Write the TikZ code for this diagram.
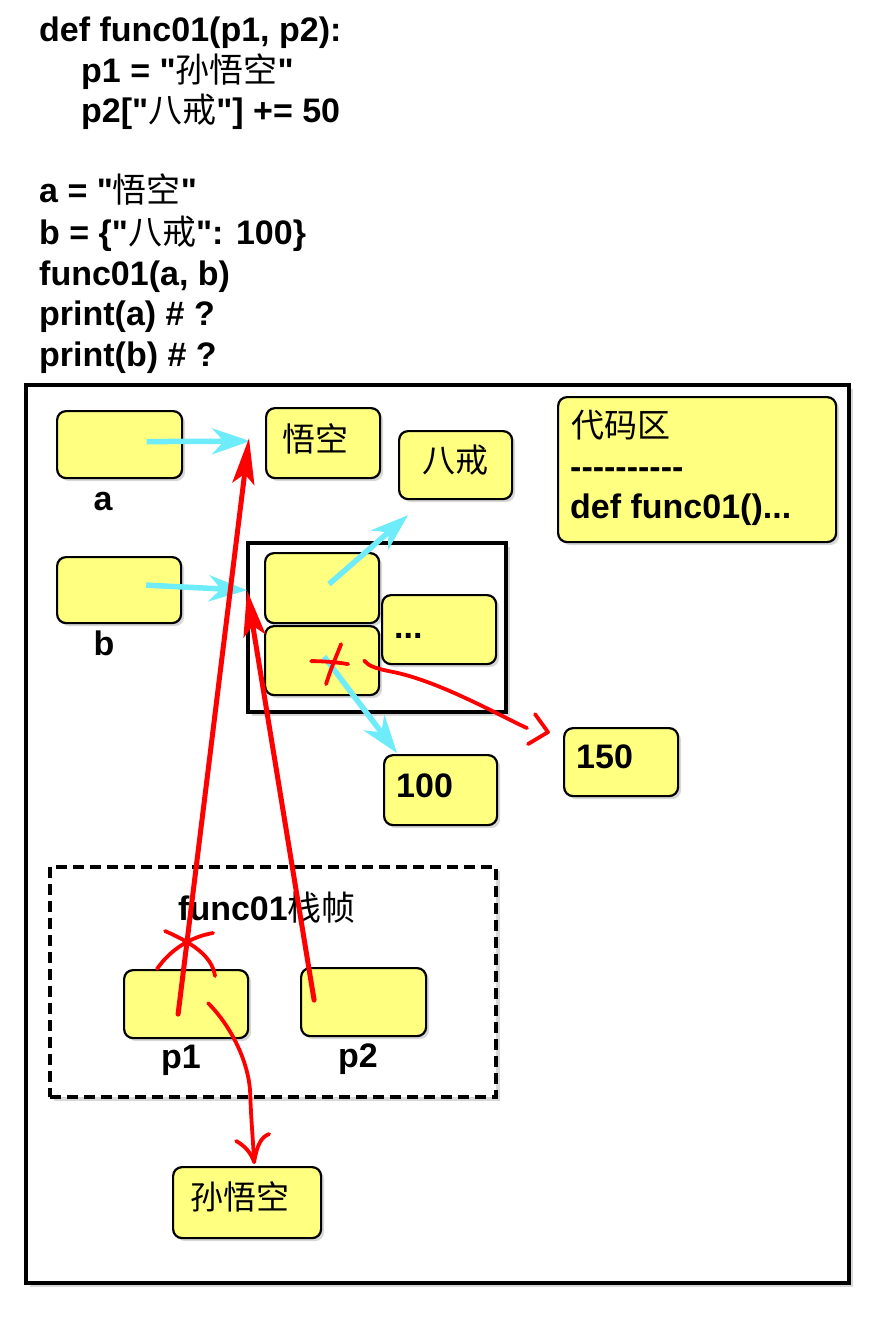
\documentclass[tikz,border=0pt]{standalone}
\usepackage{fontspec}
\newfontfamily\lsans{Liberation Sans}
\newfontfamily\cjk{Noto Sans CJK SC}
\usetikzlibrary{arrows.meta,calc,shadows}
\definecolor{boxyellow}{RGB}{255,255,128}
\definecolor{arrowcyan}{RGB}{110,236,250}
\definecolor{penred}{RGB}{255,0,0}
\newcommand\zh[1]{{\cjk\mdseries #1}}
\newcommand\ybx[5]{\node[ybox,minimum width=#4pt,minimum height=#5pt] (#1) at (#2,#3) {};}
\newcommand\hy{-\kern0pt}
\begin{document}
\begin{tikzpicture}[x=1pt,y=-1pt,
  ybox/.style={draw=black, line width=2.2pt, fill=boxyellow, rounded corners=9pt,
    anchor=north west, inner sep=0pt,
    drop shadow={opacity=0.3,shadow xshift=3pt,shadow yshift=-3pt}},
  frame/.style={draw=black, line width=3.5pt, fill=white, anchor=north west, inner sep=0pt,
    drop shadow={opacity=0.3,shadow xshift=4pt,shadow yshift=-4pt}},
  code/.style={font=\lsans\bfseries\fontsize{34}{40}\selectfont, inner sep=0pt, anchor=base west},
  lbl/.style={font=\lsans\bfseries\fontsize{34}{40}\selectfont, inner sep=0pt},
  zhl/.style={font=\cjk\fontsize{33}{40}\selectfont, inner sep=0pt},
  cyanarr/.style={draw=arrowcyan, line width=5.5pt, -{Stealth[length=38pt,width=26pt,inset=12pt]}},
  redarr/.style={draw=penred, line width=5pt, line cap=round, -{Stealth[length=46pt,width=22pt,inset=10pt]}},
  redpen/.style={draw=penred, line width=3.8pt, line cap=round, line join=round}
]
\fill[white] (0,0) rectangle (894,1324);
\useasboundingbox (0,0) rectangle (894,1324);

% code lines
\node[code] (c1) at (39,42) {def func01(p1, p2):};
\node[code] (c2) at (81,83) {p1 = "\zh{孙悟空}"};
\node[code] (c3) at (81,123) {p2["\zh{八戒}"] += 50};
\node[code] (c4) at (39,203) {a = "\zh{悟空}"};
\node[code] (c5) at (39,245) {b = \{"\zh{八戒}": 100\}};
\node[code] (c6) at (39,285) {func01(a, b)};
\node[code] (c7) at (39,325) {print(a) \# ?};
\node[code] (c8) at (39,366) {print(b) \# ?};

% memory frame
\node[frame, minimum width=823pt, minimum height=898pt] (mem) at (24,383) {};
\node[frame, dashed, dash pattern=on 11pt off 6pt, minimum width=446pt, minimum height=230pt] (stack) at (48,865) {};
\node[frame, minimum width=258pt, minimum height=169pt] (dict) at (246,541) {};

% boxes
\ybx{boxA}{56}{410}{125}{67}
\ybx{boxWK}{265}{407}{114}{70}
\ybx{boxBJ}{398}{430}{113}{68}
\ybx{boxCode}{557}{396}{278}{145}
\ybx{boxB}{56}{556}{124}{66}
\ybx{key1}{264}{552}{114}{70}
\ybx{key2}{264}{625}{114}{69}
\ybx{dots}{381}{594}{114}{69}
\ybx{v100}{383}{754}{113}{70}
\ybx{v150}{563}{727}{114}{68}
\ybx{p1}{123}{969}{124}{68}
\ybx{p2}{300}{967}{125}{68}
\ybx{sun}{172}{1166}{148}{71}

% texts
\node[lbl, anchor=base] (la) at (103,510) {a};
\node[lbl, anchor=base] (lb) at (104,655) {b};
\node[lbl, anchor=base] (lp1) at (181,1068) {p1};
\node[lbl, anchor=base] (lp2) at (358,1067) {p2};
\node[zhl] (tWK) at (315,439) {悟空};
\node[zhl] (tBJ) at (455,460) {八戒};
\node[zhl, anchor=west] (tCode) at (571,425) {代码区};
\node[lbl, anchor=base west] (tDash) at (570,478) {\hy\hy\hy\hy\hy\hy\hy\hy\hy-};
\node[lbl, anchor=base west] (tDef) at (570,518) {def func01()...};
\node[lbl, anchor=base west] (tDots) at (394,638) {...};
\node[lbl, anchor=base west] (t100) at (396,797) {100};
\node[lbl, anchor=base west] (t150) at (576,768) {150};
\node[lbl] (tFrame) at (267,908) {func01\zh{栈帧}};
\node[zhl] (tSun) at (240,1197) {孙悟空};

% cyan arrows
\draw[cyanarr] ($(boxA.center)+(27,-3)$) -- ($(boxWK.west)+(-15,-2)$);
\draw[cyanarr] ($(boxB.center)+(27,-5)$) -- ($(dict.west)+(1,-37)$);
\draw[cyanarr] ($(key1.center)+(7,-4)$) -- ($(boxBJ.south)+(-47.5,15)$);
\draw[cyanarr] ($(key2.center)+(2,-4)$) -- ($(v100.north west)+(14,-1)$);

% red arrows
\draw[redarr] ($(p1.center)+(-8,10)$) -- ($(boxWK.west)+(-16,-5)$);
\draw[redarr] ($(p2.center)+(-49.5,-2)$) -- ($(dict.west)+(1,-37)$);

% red cross on key2 and curve to 150
\draw[redpen] ($(key2.center)+(-11,0.5)$) .. controls +(12,0) and +(-12,-2) .. ($(key2.center)+(26,3.5)$);
\draw[redpen] ($(key2.center)+(4,23.5)$) .. controls +(4,-14) and +(-3,8) .. ($(key2.center)+(19,-16.5)$);
\coordinate (k2s) at ($(key2.center)+(42,0)$);
\coordinate (k2e) at ($(v150.west)+(-36,-34)$);
\draw[redpen] (k2s) .. controls +(5,6) and +(-20,-4) .. ($(k2s)+(32,12)$)
  .. controls +(45,10) and +(-30,-14) .. (k2e);
\draw[redpen] ($(v150.west)+(-28,-48)$) -- ($(v150.west)+(-15,-30)$) -- ($(v150.west)+(-35,-18)$);

% red cross on p1 and curve to sun
\draw[redpen] ($(p1.north west)+(34,0)$) .. controls +(13,-19) and +(-23,4) .. ($(p1.north west)+(90,-36)$);
\draw[redpen] ($(p1.north west)+(42,-38)$) .. controls +(25,11) and +(-3,-21) .. ($(p1.north west)+(92,7)$);
\coordinate (p1s) at ($(p1.center)+(22,-1)$);
\coordinate (sunTip) at ($(sun.north)+(7,-4)$);
\draw[redpen] (p1s) .. controls +(23,23) and +(-2,-30) .. ($(p1s)+(42,88)$)
  .. controls +(1,30) and +(-1,-22) .. (sunTip);
\draw[redpen] ($(sunTip)+(-18,-21)$) .. controls +(9,5) and +(-3,-9) .. (sunTip)
  .. controls +(3,-17) and +(-8,3) .. ($(sunTip)+(15,-28)$);
\end{tikzpicture}
\end{document}
